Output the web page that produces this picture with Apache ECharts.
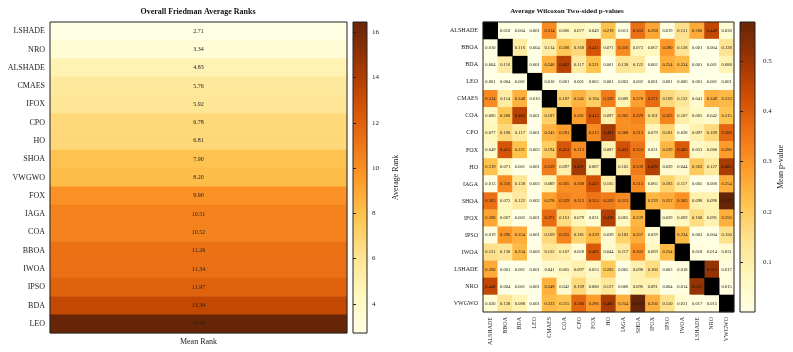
<!DOCTYPE html>
<html>
<head>
<meta charset="utf-8">
<script src="https://cdn.jsdelivr.net/npm/echarts@6/dist/echarts.min.js"></script>
<style>
  html,body{margin:0;padding:0;background:#fff;}
  #main{width:793px;height:352px;}
</style>
</head>
<body>
<div id="main"></div>
<script>
// left panel: Friedman mean ranks (top to bottom)
const rankNames = ['LSHADE','NRO','ALSHADE','CMAES','IFOX','CPO','HO','SHOA','VWGWO','FOX','IAGA','COA','BBOA','IWOA','IPSO','BDA','LEO'];
const meanRanks = [2.71,3.34,4.83,5.76,5.92,6.78,6.81,7.90,8.20,9.90,10.51,10.52,11.26,11.34,11.97,13.34,16.46];
const rankTicks = [4,6,8,10,12,14,16];

// right panel: pairwise Wilcoxon p-values (null = diagonal)
const algos = ['ALSHADE','BBOA','BDA','LEO','CMAES','COA','CPO','FOX','HO','IAGA','SHOA','IFOX','IPSO','IWOA','LSHADE','NRO','VWGWO'];
const pRows = [
  [null,0.010,0.004,0.001,0.314,0.066,0.077,0.049,0.219,0.013,0.363,0.268,0.019,0.151,0.260,0.449,0.030],
  [0.010,null,0.116,0.004,0.114,0.208,0.168,0.415,0.071,0.316,0.073,0.067,0.290,0.138,0.001,0.004,0.138],
  [0.004,0.116,null,0.001,0.248,0.462,0.117,0.221,0.001,0.138,0.122,0.002,0.254,0.234,0.001,0.001,0.088],
  [0.001,0.004,0.001,null,0.010,0.001,0.001,0.003,0.001,0.003,0.002,0.001,0.001,0.006,0.001,0.001,0.001],
  [0.314,0.114,0.248,0.010,null,0.187,0.245,0.194,0.339,0.089,0.278,0.371,0.169,0.132,0.041,0.249,0.233],
  [0.066,0.208,0.462,0.001,0.187,null,0.281,0.413,0.097,0.305,0.329,0.161,0.325,0.107,0.065,0.042,0.215],
  [0.077,0.168,0.117,0.001,0.245,0.281,null,0.313,0.491,0.308,0.313,0.079,0.181,0.028,0.097,0.169,0.380],
  [0.049,0.415,0.221,0.003,0.194,0.413,0.313,null,0.087,0.423,0.353,0.031,0.239,0.405,0.053,0.080,0.286],
  [0.219,0.071,0.001,0.001,0.339,0.097,0.491,0.087,null,0.105,0.339,0.470,0.039,0.044,0.203,0.127,0.482],
  [0.013,0.316,0.138,0.003,0.089,0.305,0.308,0.423,0.105,null,0.313,0.065,0.183,0.117,0.005,0.006,0.254],
  [0.363,0.073,0.122,0.002,0.278,0.329,0.313,0.353,0.339,0.313,null,0.239,0.257,0.303,0.098,0.096,0.577],
  [0.268,0.067,0.002,0.001,0.371,0.161,0.079,0.031,0.470,0.065,0.239,null,0.039,0.069,0.160,0.091,0.250],
  [0.019,0.290,0.254,0.001,0.169,0.325,0.181,0.239,0.039,0.183,0.257,0.039,null,0.234,0.003,0.004,0.150],
  [0.151,0.138,0.234,0.006,0.132,0.107,0.028,0.405,0.044,0.117,0.303,0.069,0.234,null,0.018,0.014,0.031],
  [0.260,0.001,0.001,0.001,0.041,0.065,0.097,0.053,0.203,0.005,0.098,0.160,0.003,0.018,null,0.512,0.017],
  [0.449,0.004,0.001,0.001,0.249,0.042,0.169,0.080,0.127,0.006,0.096,0.091,0.004,0.014,0.512,null,0.015],
  [0.030,0.138,0.088,0.001,0.233,0.215,0.380,0.286,0.482,0.254,0.577,0.250,0.150,0.031,0.017,0.015,null]
];
const pTicks = [0.1,0.2,0.3,0.4,0.5];

const YlOrBr = ['#ffffe5','#fff7bc','#fee391','#fec44f','#fe9929','#ec7014','#cc4c02','#993404','#662506'];
const FONT = 'Liberation Serif';

let rankData = meanRanks.map((v,i)=>[0,i,v]);
let pData = [], diagData = [];
pRows.forEach((row,i)=>{
  row.forEach((v,j)=>{
    if(v===null) diagData.push([j,i,1]);
    else pData.push([j,i,v]);
  });
});
let pVals = pData.map(d=>d[2]);
let pMin = Math.min(...pVals), pMax = Math.max(...pVals);
let rMin = Math.min(...meanRanks), rMax = Math.max(...meanRanks);

function barGradient(){
  return new echarts.graphic.LinearGradient(0,1,0,0,
    YlOrBr.map((c,i)=>({offset:i/(YlOrBr.length-1),color:c})));
}

let chart = echarts.init(document.getElementById('main'), null, {renderer:'canvas'});
chart.setOption({
  animation:false,
  textStyle:{fontFamily:FONT},
  title:[
    {text:'Overall Friedman Average Ranks',left:198,top:8,textAlign:'center',padding:0,
     textStyle:{fontFamily:FONT,fontSize:8,fontWeight:'bold',color:'#111'}},
    {text:'Average Wilcoxon Two-sided p-values',left:567,top:8,textAlign:'center',padding:0,
     textStyle:{fontFamily:FONT,fontSize:7,fontWeight:'bold',color:'#111'}}
  ],
  grid:[
    {left:50,top:22,width:297,height:311,show:true,z:5,backgroundColor:'transparent',borderColor:'#222',borderWidth:1},
    {left:353,top:22,width:14,height:311,show:true,backgroundColor:barGradient(),borderColor:'#222',borderWidth:1},
    {left:483,top:22,width:251,height:290,show:true,z:5,backgroundColor:'transparent',borderColor:'#222',borderWidth:1},
    {left:740,top:22,width:15,height:290,show:true,backgroundColor:barGradient(),borderColor:'#222',borderWidth:1}
  ],
  xAxis:[
    {gridIndex:0,type:'category',data:['Mean Rank'],axisLine:{show:false},
     axisTick:{alignWithLabel:true,length:3,lineStyle:{color:'#222'}},
     axisLabel:{fontFamily:FONT,fontSize:8,color:'#222',margin:5}},
    {gridIndex:1,type:'value',show:false},
    {gridIndex:2,type:'category',data:algos,axisLine:{show:false},
     axisTick:{alignWithLabel:true,length:3,lineStyle:{color:'#222'}},
     axisLabel:{fontFamily:FONT,fontSize:6,color:'#222',rotate:90,margin:5,interval:0}},
    {gridIndex:3,type:'value',show:false}
  ],
  yAxis:[
    {gridIndex:0,type:'category',data:rankNames,inverse:true,axisLine:{show:false},
     axisTick:{alignWithLabel:true,length:3,lineStyle:{color:'#222'}},
     axisLabel:{fontFamily:FONT,fontSize:8,color:'#222',margin:5}},
    {gridIndex:1,type:'value',min:rMin,max:rMax,position:'right',
     axisLine:{show:false},splitLine:{show:false},
     axisTick:{show:true,length:3,customValues:rankTicks,lineStyle:{color:'#222'}},
     axisLabel:{customValues:rankTicks,fontFamily:FONT,fontSize:7,color:'#222',margin:5},
     name:'Average Rank',nameLocation:'middle',nameGap:25,
     nameTextStyle:{fontFamily:FONT,fontSize:8,color:'#222'}},
    {gridIndex:2,type:'category',data:algos,inverse:true,axisLine:{show:false},
     axisTick:{alignWithLabel:true,length:3,lineStyle:{color:'#222'}},
     axisLabel:{fontFamily:FONT,fontSize:6,color:'#222',margin:5,interval:0}},
    {gridIndex:3,type:'value',min:pMin,max:pMax,position:'right',
     axisLine:{show:false},splitLine:{show:false},
     axisTick:{show:true,length:3,customValues:pTicks,lineStyle:{color:'#222'}},
     axisLabel:{customValues:pTicks,fontFamily:FONT,fontSize:7,color:'#222',margin:8},
     name:'Mean p-value',nameLocation:'middle',nameGap:22,
     nameTextStyle:{fontFamily:FONT,fontSize:8,color:'#222'}}
  ],
  visualMap:[
    {show:false,seriesIndex:0,dimension:2,min:rMin,max:rMax,inRange:{color:YlOrBr}},
    {show:false,seriesIndex:1,dimension:2,min:pMin,max:pMax,inRange:{color:YlOrBr}}
  ],
  series:[
    {type:'heatmap',xAxisIndex:0,yAxisIndex:0,data:rankData,
     label:{show:true,fontFamily:FONT,fontSize:6,color:'#222',formatter:p=>p.value[2].toFixed(2)}},
    {type:'heatmap',xAxisIndex:2,yAxisIndex:2,data:pData,
     label:{show:true,fontFamily:FONT,fontSize:4.5,color:'#111',formatter:p=>p.value[2].toFixed(3)}},
    {type:'heatmap',xAxisIndex:2,yAxisIndex:2,data:diagData,
     itemStyle:{color:'#000'},label:{show:false}}
  ]
});
</script>
</body>
</html>
